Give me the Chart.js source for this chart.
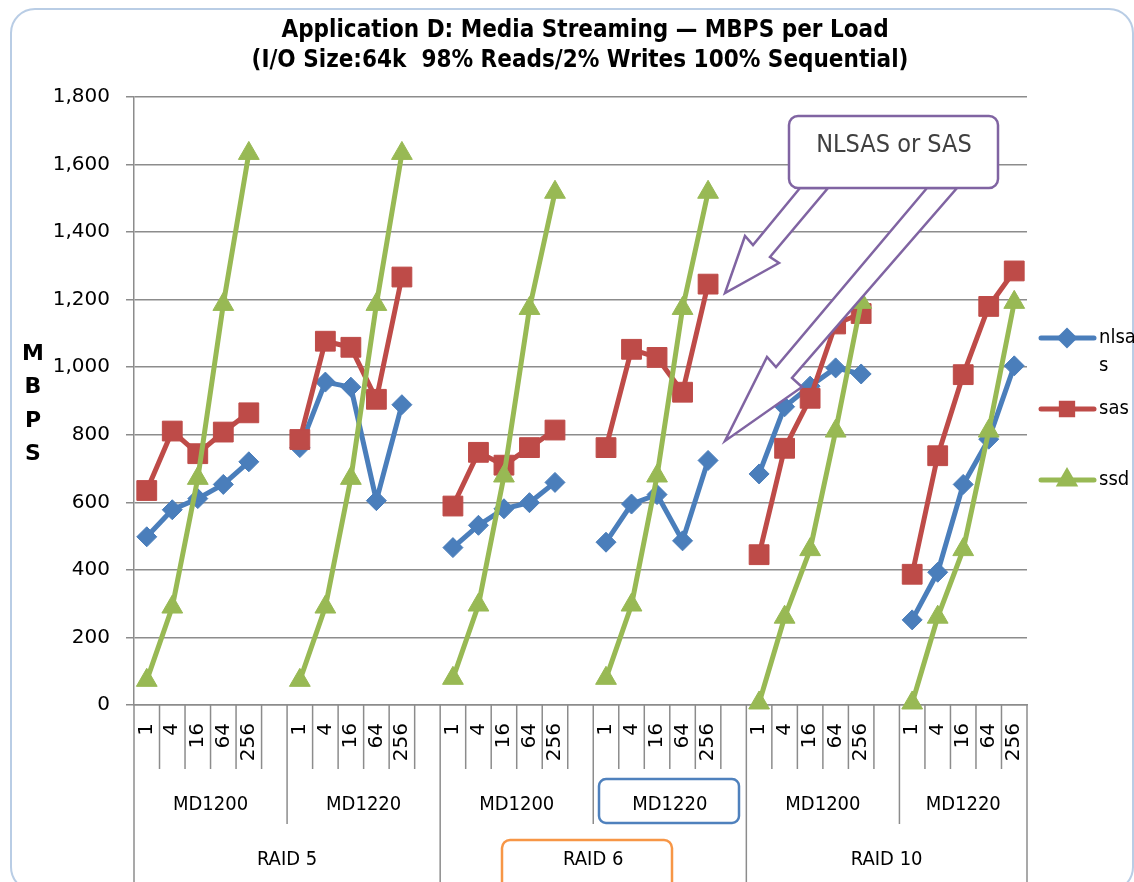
<!DOCTYPE html>
<html>
<head>
<meta charset="utf-8">
<script src="https://cdn.jsdelivr.net/npm/chart.js@4.4.0/dist/chart.umd.min.js"></script>
<style>
  html, body { margin: 0; padding: 0; background: #ffffff; }
</style>
</head>
<body>
<canvas id="myChart" width="1134" height="882"></canvas>
<script>
//-----------------------------------------------------------------
//DATA
const loads = ['1', '4', '16', '64', '256'];
const enclosures = ['MD1200', 'MD1220'];
const raidLevels = ['RAID 5', 'RAID 6', 'RAID 10'];
const seriesNames = ['nlsas', 'sas', 'ssd'];

// one row per enclosure group, in axis order (RAID 5 MD1200 ... RAID 10 MD1220)
const nlsas = [
    [498, 578, 611, 653, 720],
    [762, 956, 941, 605, 889],
    [466, 532, 581, 599, 659],
    [482, 595, 623, 486, 724],
    [684, 883, 944, 998, 980],
    [252, 393, 653, 787, 1004],
];
const sas = [
    [635, 811, 744, 808, 865],
    [786, 1077, 1059, 905, 1267],
    [589, 748, 710, 762, 814],
    [762, 1053, 1029, 926, 1246],
    [445, 760, 908, 1128, 1159],
    [387, 738, 978, 1180, 1285],
];
const ssd = [
    [73, 290, 671, 1186, 1633],
    [73, 290, 671, 1186, 1633],
    [79, 296, 678, 1174, 1518],
    [79, 296, 678, 1174, 1518],
    [6, 260, 460, 811, 1192],
    [6, 260, 460, 811, 1192],
];

const yTicks = [0, 200, 400, 600, 800, 1000, 1200, 1400, 1600, 1800];

// labels: 5 loads per group, with an empty slot between groups
const groupCount = raidLevels.length * enclosures.length;
var labels = [];
var groupStart = [];
for (let g = 0; g < groupCount; g++) {
    groupStart.push(labels.length);
    labels = labels.concat(loads);
    if (g < groupCount - 1) labels.push('');
}
groupStart.push(labels.length);

function flatten(rows) {
    var out = [];
    rows.forEach((row, g) => {
        out = out.concat(row);
        if (g < rows.length - 1) out.push(null);
    });
    return out;
}

//-----------------------------------------------------------------
//STYLE
const blue = '#4A7EBB';
const red = '#BE4B48';
const green = '#98B954';
const gridColor = '#8C8C8C';
const font = 'DejaVu Sans';
const condensed = 'DejaVu Sans Condensed';

//-----------------------------------------------------------------
//EXTRA DRAWING (frame, title, multi-level axis, legend, callouts)
function poly(ctx, pts) {
    ctx.beginPath();
    ctx.moveTo(pts[0][0], pts[0][1]);
    for (let i = 1; i < pts.length; i++) ctx.lineTo(pts[i][0], pts[i][1]);
    ctx.closePath();
}

const decorations = {
    id: 'decorations',
    beforeDraw(chart) {
        const ctx = chart.ctx;
        ctx.save();
        ctx.fillStyle = '#ffffff';
        ctx.fillRect(0, 0, chart.width, chart.height);
        ctx.strokeStyle = '#B9CDE5';
        ctx.lineWidth = 2;
        ctx.beginPath();
        ctx.roundRect(11, 9, 1122, 882, 24);
        ctx.stroke();
        ctx.restore();
    },
    afterDraw(chart) {
        const ctx = chart.ctx;
        const area = chart.chartArea;
        const slot = (area.right - area.left) / labels.length;
        const slotX = (i) => area.left + i * slot;
        ctx.save();

        // title
        ctx.fillStyle = '#000000';
        ctx.textAlign = 'center';
        ctx.textBaseline = 'middle';
        ctx.font = 'bold 24px "' + condensed + '"';
        ctx.fillText('Application D: Media Streaming \u2014 MBPS per Load', 585, 31);
        ctx.fillText('(I/O Size:64k  98% Reads/2% Writes 100% Sequential)', 580, 61);

        // y title, stacked letters
        ctx.font = 'bold 22px "' + font + '"';
        ['M', 'B', 'P', 'S'].forEach((ch, i) => ctx.fillText(ch, 33, 354 + i * 33.5));

        // category separators
        ctx.strokeStyle = gridColor;
        ctx.lineWidth = 1.5;
        for (let i = 0; i <= labels.length; i++) {
            var bottom = 769;
            if (i % 12 == 0 || i == labels.length) bottom = 890;
            else if (i % 6 == 0) bottom = 824;
            ctx.beginPath();
            ctx.moveTo(slotX(i), area.bottom);
            ctx.lineTo(slotX(i), bottom);
            ctx.stroke();
        }

        // enclosure and raid labels
        ctx.font = '20px "' + condensed + '"';
        for (let g = 0; g < groupCount; g++) {
            const end = Math.min(groupStart[g] + 6, labels.length);
            ctx.fillText(enclosures[g % 2], (slotX(groupStart[g]) + slotX(end)) / 2, 805);
        }
        raidLevels.forEach((r, k) => {
            const end = Math.min(groupStart[k * 2] + 12, labels.length);
            ctx.fillText(r, (slotX(groupStart[k * 2]) + slotX(end)) / 2, 860);
        });

        // highlight boxes
        ctx.lineWidth = 2.5;
        ctx.strokeStyle = '#4F81BD';
        ctx.beginPath();
        ctx.roundRect(599, 779, 140, 44, 7);
        ctx.stroke();
        ctx.strokeStyle = '#F79646';
        ctx.beginPath();
        ctx.roundRect(502, 840, 170, 62, 8);
        ctx.stroke();

        // legend
        const colors = [blue, red, green];
        const styles = ['rectRot', 'rect', 'triangle'];
        const radii = [7, 8, 8];
        const legendY = [338, 409, 480];
        seriesNames.forEach((name, i) => {
            ctx.strokeStyle = colors[i];
            ctx.lineWidth = 5;
            ctx.lineCap = 'round';
            ctx.beginPath();
            ctx.moveTo(1041, legendY[i]);
            ctx.lineTo(1094, legendY[i]);
            ctx.stroke();
            ctx.fillStyle = colors[i];
            Chart.helpers.drawPoint(ctx, {pointStyle: styles[i], radius: radii[i], rotation: 0, borderWidth: 1}, 1067, legendY[i]);
            ctx.fill();
        });
        ctx.fillStyle = '#000000';
        ctx.textAlign = 'left';
        ctx.font = '20px "' + condensed + '"';
        ctx.fillText('nlsa', 1099, 338);
        ctx.fillText('s', 1099, 366);
        ctx.fillText('sas', 1099, 409);
        ctx.fillText('ssd', 1099, 480);

        // callout arrows and box
        ctx.lineCap = 'butt';
        ctx.lineJoin = 'miter';
        ctx.strokeStyle = '#8064A2';
        ctx.fillStyle = '#ffffff';
        ctx.lineWidth = 2.5;
        const arrow1 = [[800, 188], [753, 245], [745, 236], [725, 293], [779, 263], [770, 257], [828, 188]];
        const arrow2 = [[927, 188], [776, 367], [767, 357], [725, 441], [802, 387], [792, 378], [957, 188]];
        [arrow1, arrow2].forEach(a => {
            poly(ctx, a);
            ctx.fill();
            ctx.stroke();
        });
        ctx.beginPath();
        ctx.roundRect(789, 116, 209, 72, 9);
        ctx.fill();
        ctx.stroke();
        ctx.fillStyle = '#404040';
        ctx.textAlign = 'center';
        ctx.font = '25px "' + condensed + '"';
        ctx.fillText('NLSAS or SAS', 894, 145);

        ctx.restore();
    }
};

//-----------------------------------------------------------------
//CHART
const ctx = document.getElementById('myChart').getContext('2d');

const myChart = new Chart(ctx, {
    type: 'line',
    data: {
        labels: labels,
        datasets: [
            {
                label: 'nlsas',
                data: flatten(nlsas),
                borderColor: blue,
                backgroundColor: blue,
                borderWidth: 5,
                pointStyle: 'rectRot',
                pointRadius: 10,
                pointBorderWidth: 1,
                order: 3,
            },
            {
                label: 'sas',
                data: flatten(sas),
                borderColor: red,
                backgroundColor: red,
                borderWidth: 5,
                pointStyle: 'rect',
                pointRadius: 14,
                pointBorderWidth: 1,
                order: 2,
            },
            {
                label: 'ssd',
                data: flatten(ssd),
                borderColor: green,
                backgroundColor: green,
                borderWidth: 5,
                pointStyle: 'triangle',
                pointRadius: 12,
                pointBorderWidth: 1,
                order: 1,
            },
        ],
    },
    options: {
        responsive: false,
        animation: false,
        spanGaps: false,
        clip: false,
        layout: {
            padding: { left: 0, right: 107, top: 97, bottom: 0 },
        },
        elements: {
            line: { tension: 0, borderJoinStyle: 'round' },
        },
        plugins: {
            legend: { display: false },
            title: { display: false },
            tooltip: { enabled: false },
        },
        scales: {
            x: {
                offset: true,
                grid: { display: false },
                border: { display: true, color: gridColor, width: 1.5 },
                ticks: {
                    autoSkip: false,
                    minRotation: 90,
                    maxRotation: 90,
                    padding: 10,
                    color: '#000000',
                    font: { size: 20, family: font },
                },
                afterFit: (scale) => { scale.height = 177; },
            },
            y: {
                min: 0,
                max: 1800,
                afterBuildTicks: (scale) => { scale.ticks = yTicks.map(v => ({ value: v })); },
                ticks: {
                    padding: 16,
                    color: '#000000',
                    font: { size: 20, family: font },
                    callback: (value) => value.toLocaleString('en-US'),
                },
                grid: { color: gridColor, lineWidth: 1.5, tickLength: 8 },
                border: { color: gridColor, width: 1.5 },
                afterFit: (scale) => { scale.width = 134; },
            },
        },
    },
    plugins: [decorations],
});
</script>
</body>
</html>
